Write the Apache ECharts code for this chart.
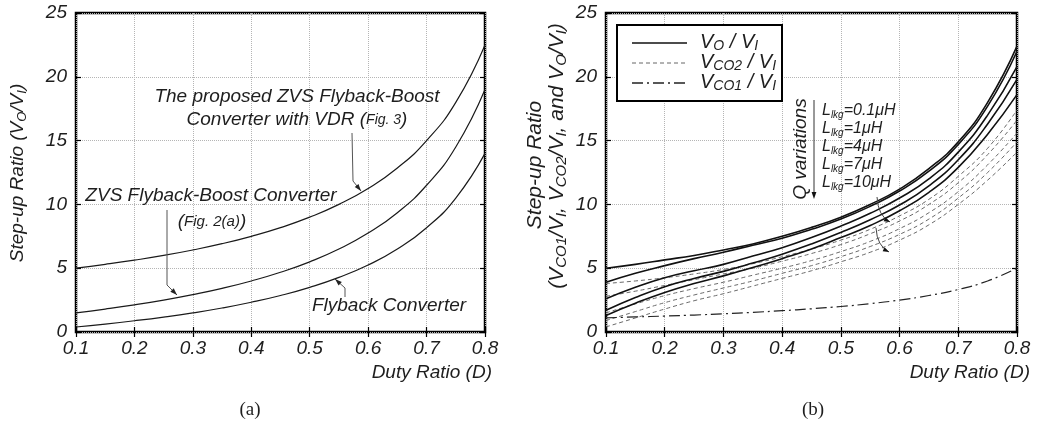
<!DOCTYPE html>
<html>
<head>
<meta charset="utf-8">
<script src="https://cdn.jsdelivr.net/npm/echarts@6/dist/echarts.min.js"></script>
<style>
  html, body { margin: 0; padding: 0; background: #fff; }
  #chart { width: 1037px; height: 426px; }
</style>
</head>
<body>
<div id="chart"></div>
<script>
// Duty ratio samples shared by every curve
const dutyRatio = [0.1, 0.15, 0.2, 0.25, 0.3, 0.35, 0.4, 0.45, 0.5, 0.55, 0.6, 0.65, 0.7, 0.75, 0.8];

// (a) step-up ratio of the three converters
const flybackRatio         = [0.39, 0.62, 0.88, 1.17, 1.5, 1.88, 2.33, 2.86, 3.5, 4.28, 5.25, 6.5, 8.17, 10.5, 14.0];
const zvsFlybackBoostRatio = [1.5, 1.8, 2.13, 2.5, 2.93, 3.42, 4.0, 4.68, 5.5, 6.5, 7.75, 9.35, 11.5, 14.5, 19.0];
const proposedVdrRatio     = [5.0, 5.3, 5.63, 6.0, 6.43, 6.92, 7.5, 8.18, 9.0, 10.0, 11.25, 12.85, 15.0, 18.0, 22.5];

// (b) leakage inductance values
const lkgLabels = ['0.1', '1', '4', '7', '10'];

// (b) VO / VI for each leakage inductance
const voLkg01 = [5.0, 5.3, 5.65, 6.0, 6.43, 6.9, 7.5, 8.2, 9.0, 10.0, 11.2, 12.8, 14.9, 18.0, 22.4];
const voLkg1  = [3.9, 4.6, 5.2, 5.75, 6.25, 6.8, 7.35, 8.05, 8.85, 9.85, 11.05, 12.6, 14.7, 17.7, 22.0];
const voLkg4  = [2.6, 3.5, 4.25, 4.8, 5.3, 5.95, 6.6, 7.4, 8.3, 9.3, 10.5, 12.0, 14.1, 17.0, 20.8];
const voLkg7  = [1.7, 2.7, 3.55, 4.2, 4.75, 5.4, 6.1, 6.9, 7.8, 8.8, 9.95, 11.45, 13.5, 16.3, 19.8];
const voLkg10 = [1.3, 2.25, 3.1, 3.8, 4.4, 5.05, 5.75, 6.5, 7.4, 8.35, 9.5, 10.95, 12.9, 15.5, 18.6];

// (b) VCO2 / VI for each leakage inductance
const vco2Lkg01 = [3.8, 4.0, 4.25, 4.55, 4.9, 5.35, 5.9, 6.5, 7.2, 8.05, 9.1, 10.4, 12.2, 14.4, 17.4];
const vco2Lkg1  = [2.8, 3.2, 3.65, 4.1, 4.55, 5.0, 5.55, 6.15, 6.85, 7.7, 8.7, 10.0, 11.7, 13.9, 16.6];
const vco2Lkg4  = [1.5, 2.2, 2.85, 3.4, 3.9, 4.45, 5.0, 5.6, 6.3, 7.1, 8.1, 9.35, 11.0, 13.1, 15.6];
const vco2Lkg7  = [0.9, 1.6, 2.3, 2.9, 3.45, 4.0, 4.6, 5.2, 5.9, 6.7, 7.65, 8.85, 10.5, 12.5, 14.9];
const vco2Lkg10 = [0.4, 1.1, 1.8, 2.45, 3.0, 3.6, 4.2, 4.8, 5.5, 6.25, 7.2, 8.4, 10.0, 11.9, 14.1];

// (b) VCO1 / VI
const vco1Ratio = [1.11, 1.18, 1.25, 1.33, 1.43, 1.54, 1.67, 1.82, 2.0, 2.22, 2.5, 2.86, 3.33, 4.0, 5.0];

const FONT = '"Liberation Sans", Arial, sans-serif';
const SERIF = '"Liberation Serif", "Times New Roman", serif';
const INK = '#1e1e1e';

const pairs = ys => dutyRatio.map((d, i) => [d, ys[i]]);

function curve(name, ys, grid, style) {
  return {
    name, type: 'line', xAxisIndex: grid, yAxisIndex: grid,
    data: pairs(ys), smooth: true, symbol: 'none', silent: true,
    lineStyle: style, z: 3
  };
}

const tickStyle = { show: true, inside: true, length: 5, lineStyle: { color: '#000', width: 1.2 } };
const gridLine = { show: true, lineStyle: { color: '#b5b5b5', type: 'dotted', width: 1 } };

function xAxis(grid) {
  return {
    type: 'value', gridIndex: grid, min: 0.1, max: 0.8, interval: 0.1,
    axisLine: { show: false }, axisTick: tickStyle,
    axisLabel: { margin: 7, fontSize: 19, fontStyle: 'italic', fontFamily: FONT, color: INK,
                 formatter: v => v.toFixed(1) },
    splitLine: gridLine
  };
}
function yAxis(grid) {
  return {
    type: 'value', gridIndex: grid, min: 0, max: 25, interval: 5,
    axisLine: { show: false }, axisTick: tickStyle,
    axisLabel: { margin: 9, fontSize: 19, fontStyle: 'italic', fontFamily: FONT, color: INK },
    splitLine: gridLine
  };
}
// mirrored axes: tick marks only, on the top and right edges of each frame
function xMirror(grid) {
  return { type: 'value', gridIndex: grid, position: 'top', min: 0.1, max: 0.8, interval: 0.1,
           axisLine: { show: false }, axisTick: tickStyle, axisLabel: { show: false }, splitLine: { show: false } };
}
function yMirror(grid) {
  return { type: 'value', gridIndex: grid, position: 'right', min: 0, max: 25, interval: 5,
           axisLine: { show: false }, axisTick: tickStyle, axisLabel: { show: false }, splitLine: { show: false } };
}

// ---- text helpers (rich text gives the subscripts) ----
function label(x, y, text, o = {}) {
  const size = o.size || 19;
  const sub = o.sub || Math.round(size * 0.68);
  return {
    type: 'text', x, y, rotation: o.rot || 0, z: 100, silent: true,
    style: {
      text, x: 0, y: 0, align: o.align || 'center', verticalAlign: 'middle',
      fill: INK, fontSize: size, fontStyle: o.italic === false ? 'normal' : 'italic',
      fontFamily: o.family || FONT, lineHeight: size + 3,
      rich: {
        s: { fontSize: sub, fontStyle: 'italic', fontFamily: FONT, fill: INK,
             lineHeight: Math.round(sub * 0.8), verticalAlign: 'bottom' },
        f: { fontSize: o.small || 14, fontStyle: 'italic', fontFamily: FONT, fill: INK,
             lineHeight: size + 3 }
      }
    }
  };
}

function arrowHead(tip, from, len = 7, w = 2.6, color = '#333') {
  const dx = tip[0] - from[0], dy = tip[1] - from[1];
  const n = Math.hypot(dx, dy) || 1;
  const ux = dx / n, uy = dy / n;
  const bx = tip[0] - ux * len, by = tip[1] - uy * len;
  return {
    type: 'polygon', z: 101, silent: true,
    shape: { points: [tip, [bx - uy * w, by + ux * w], [bx + uy * w, by - ux * w]] },
    style: { fill: color, stroke: null }
  };
}
function pointer(points, color = '#555') {
  const n = points.length;
  return [
    { type: 'polyline', z: 100, silent: true, shape: { points },
      style: { stroke: color, lineWidth: 1, fill: null } },
    arrowHead(points[n - 1], points[n - 2], 7, 2.4, '#222')
  ];
}
function bentPointer(p0, cp, p1) {
  return [
    { type: 'bezierCurve', z: 100, silent: true,
      shape: { x1: p0[0], y1: p0[1], cpx1: cp[0], cpy1: cp[1], x2: p1[0], y2: p1[1] },
      style: { stroke: '#444', lineWidth: 1, fill: null } },
    arrowHead(p1, cp, 6, 2.2, '#111')
  ];
}

const graphic = [
  // (a) axis titles
  label(18, 173, 'Step-up Ratio (V{s|O}/V{s|I})', { rot: Math.PI / 2, size: 19, sub: 13 }),
  label(492, 373, 'Duty Ratio (D)', { align: 'right' }),
  // (a) curve annotations
  label(297, 97, 'The proposed ZVS Flyback-Boost'),
  label(297, 120, 'Converter with VDR ({f|Fig. 3})', { small: 14 }),
  label(211, 196, 'ZVS Flyback-Boost Converter'),
  label(212, 222, '({f|Fig. 2(a)})', { small: 15 }),
  label(389, 306, 'Flyback Converter'),
  ...pointer([[352, 133], [353, 181], [361, 191]]),
  ...pointer([[167, 210], [167, 285], [177, 295]]),
  ...pointer([[345, 297], [345, 288], [335, 279]]),
  label(250, 410, '(a)', { italic: false, family: SERIF, size: 19 }),

  // (b) axis titles
  label(535, 165, 'Step-up Ratio', { rot: Math.PI / 2, size: 21 }),
  label(557, 156, '(V{s|CO1}/V{s|I}, V{s|CO2}/V{s|I}, and V{s|O}/V{s|I})', { rot: Math.PI / 2, size: 21, sub: 15 }),
  label(1030, 373, 'Duty Ratio (D)', { align: 'right' }),

  // (b) key box
  { type: 'rect', z: 90, silent: true, shape: { x: 617, y: 25, width: 165, height: 76 },
    style: { fill: '#fff', stroke: '#000', lineWidth: 2 } },
  { type: 'line', z: 91, silent: true, shape: { x1: 632, y1: 43, x2: 687, y2: 43 },
    style: { stroke: '#111', lineWidth: 1.6 } },
  { type: 'line', z: 91, silent: true, shape: { x1: 632, y1: 63, x2: 687, y2: 63 },
    style: { stroke: '#666', lineWidth: 1, lineDash: [4, 3] } },
  { type: 'line', z: 91, silent: true, shape: { x1: 632, y1: 83, x2: 687, y2: 83 },
    style: { stroke: '#222', lineWidth: 1.3, lineDash: [11, 4, 2, 4] } },
  label(700, 42, 'V{s|O} / V{s|I}', { align: 'left', size: 20, sub: 14 }),
  label(700, 62, 'V{s|CO2} / V{s|I}', { align: 'left', size: 20, sub: 14 }),
  label(700, 82, 'V{s|CO1} / V{s|I}', { align: 'left', size: 20, sub: 14 }),

  // (b) Q / leakage annotation
  label(801, 149, 'Q variations', { rot: Math.PI / 2, size: 19 }),
  { type: 'line', z: 100, silent: true, shape: { x1: 814, y1: 100, x2: 814, y2: 192 },
    style: { stroke: '#333', lineWidth: 1 } },
  arrowHead([814, 199], [814, 190], 7, 2.4, '#111'),
  ...lkgLabels.map((v, i) =>
    label(822, 111 + i * 18, 'L{s|lkg}=' + v + 'μH', { align: 'left', size: 16, sub: 10 })),
  ...bentPointer([877, 197], [878, 216], [890, 222]),
  ...bentPointer([876, 228], [877, 246], [889, 252]),
  label(813, 410, '(b)', { italic: false, family: SERIF, size: 19 })
];

const solid = { color: '#111', width: 1.6, type: 'solid' };
const dashed = { color: '#6a6a6a', width: 1, type: [4, 3] };
const dashDot = { color: '#222', width: 1.2, type: [11, 4, 2, 4] };
const thin = { color: '#1a1a1a', width: 1.2, type: 'solid' };

const option = {
  backgroundColor: '#fff',
  animation: false,
  grid: [
    { left: 76, top: 13, width: 409, height: 319, show: true, borderColor: '#000', borderWidth: 2.5, backgroundColor: 'transparent' },
    { left: 606, top: 13, width: 411, height: 319, show: true, borderColor: '#000', borderWidth: 2.5, backgroundColor: 'transparent' }
  ],
  xAxis: [xAxis(0), xAxis(1), xMirror(0), xMirror(1)],
  yAxis: [yAxis(0), yAxis(1), yMirror(0), yMirror(1)],
  series: [
    curve('Flyback Converter', flybackRatio, 0, thin),
    curve('ZVS Flyback-Boost Converter', zvsFlybackBoostRatio, 0, thin),
    curve('Proposed ZVS Flyback-Boost with VDR', proposedVdrRatio, 0, thin),

    curve('VCO2/VI Lkg=10', vco2Lkg10, 1, dashed),
    curve('VCO2/VI Lkg=7', vco2Lkg7, 1, dashed),
    curve('VCO2/VI Lkg=4', vco2Lkg4, 1, dashed),
    curve('VCO2/VI Lkg=1', vco2Lkg1, 1, dashed),
    curve('VCO2/VI Lkg=0.1', vco2Lkg01, 1, dashed),
    curve('VCO1/VI', vco1Ratio, 1, dashDot),
    curve('VO/VI Lkg=10', voLkg10, 1, solid),
    curve('VO/VI Lkg=7', voLkg7, 1, solid),
    curve('VO/VI Lkg=4', voLkg4, 1, solid),
    curve('VO/VI Lkg=1', voLkg1, 1, solid),
    curve('VO/VI Lkg=0.1', voLkg01, 1, solid)
  ],
  graphic
};

const chart = echarts.init(document.getElementById('chart'), null, { renderer: 'canvas' });
chart.setOption(option);
</script>
</body>
</html>
